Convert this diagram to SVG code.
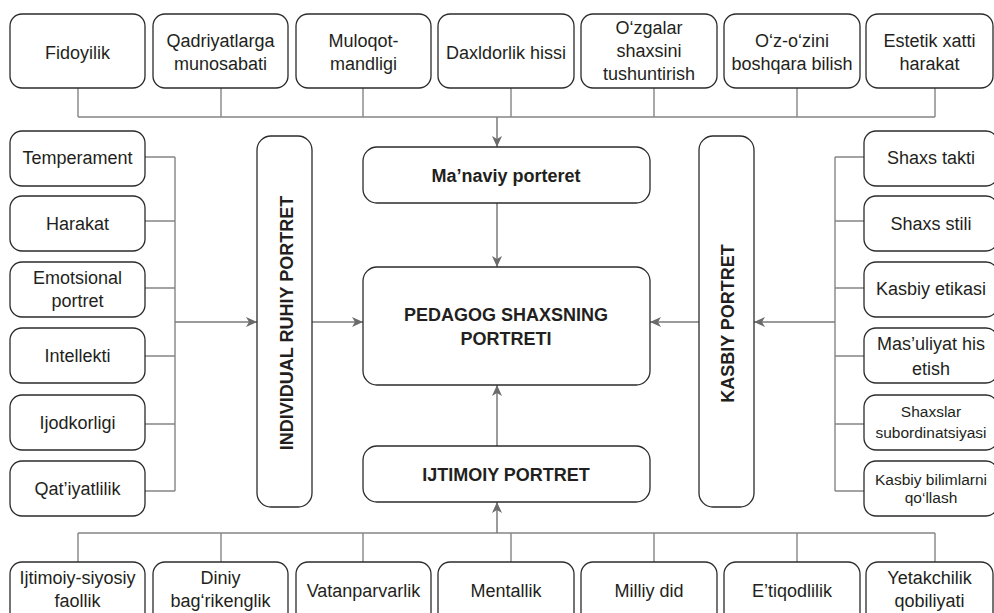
<svg xmlns="http://www.w3.org/2000/svg" width="994" height="613" viewBox="0 0 994 613">
<defs>
<style>
.b{fill:#fff;stroke:#2b2b2b;stroke-width:1.3}
.t{font-family:"Liberation Sans",Arial,sans-serif;font-size:18px;fill:#231f20;text-anchor:middle}
.s{font-size:15.5px}
.bd{font-weight:bold}
.c{fill:none;stroke:#858585;stroke-width:1.4}
.a{fill:none;stroke:#7a7a7a;stroke-width:1.5;marker-end:url(#ah)}
</style>
<marker id="ah" markerUnits="userSpaceOnUse" markerWidth="12" markerHeight="12" refX="11" refY="5" orient="auto">
<path d="M0,0 L11,5 L0,10 L3,5 z" fill="#6b6b6b"/>
</marker>
</defs>
<rect width="994" height="613" fill="#fff"/>
<g id="connectors">
<path class="c" d="M78,88V117M221,88V117M363,88V117M511,88V117M654,88V117M797,88V117M935,88V117M78,117H935"/>
<path class="a" d="M497,117V147"/>
<path class="a" d="M497,203V267"/>
<path class="a" d="M497,446V385"/>
<path class="c" d="M78,562V533M221,562V533M363,562V533M511,562V533M654,562V533M797,562V533M935,562V533M78,533H935"/>
<path class="a" d="M497,533V502"/>
<path class="c" d="M145,157H175M145,221H175M145,288H175M145,356H175M145,424H175M145,491H175M175,157V491"/>
<path class="a" d="M175,322H257"/>
<path class="a" d="M312,322H363"/>
<path class="c" d="M864,157H835M864,221H835M864,288H835M864,356H835M864,424H835M864,491H835M835,157V491"/>
<path class="a" d="M835,322H754"/>
<path class="a" d="M699,322H650"/>
</g>
<g id="top-fidoyilik"><rect class="b" x="10" y="14" width="135" height="74" rx="12"/><text class="t" x="77.5" y="59">Fidoyilik</text></g>
<g id="top-qadriyatlarga"><rect class="b" x="153" y="14" width="135" height="74" rx="12"/><text class="t" x="220.5" y="47">Qadriyatlarga</text><text class="t" x="220.5" y="70">munosabati</text></g>
<g id="top-muloqot"><rect class="b" x="296" y="14" width="135" height="74" rx="12"/><text class="t" x="363.5" y="47">Muloqot-</text><text class="t" x="363.5" y="70">mandligi</text></g>
<g id="top-daxldorlik"><rect class="b" x="438" y="14" width="136" height="74" rx="12"/><text class="t" x="506" y="59">Daxldorlik hissi</text></g>
<g id="top-ozgalar"><rect class="b" x="581" y="14" width="136" height="74" rx="12"/><text class="t" x="649" y="34">O‘zgalar</text><text class="t" x="649" y="57">shaxsini</text><text class="t" x="649" y="80">tushuntirish</text></g>
<g id="top-ozozini"><rect class="b" x="724" y="14" width="136" height="74" rx="12"/><text class="t" x="792" y="47">O‘z-o‘zini</text><text class="t" x="792" y="70">boshqara bilish</text></g>
<g id="top-estetik"><rect class="b" x="866" y="14" width="127" height="74" rx="12"/><text class="t" x="929.5" y="47">Estetik xatti</text><text class="t" x="929.5" y="70">harakat</text></g>

<g id="l-temperament"><rect class="b" x="10" y="131" width="135" height="55" rx="12"/><text class="t" x="77.5" y="164">Temperament</text></g>
<g id="l-harakat"><rect class="b" x="10" y="196" width="135" height="55" rx="12"/><text class="t" x="77.5" y="230">Harakat</text></g>
<g id="l-emotsional"><rect class="b" x="10" y="262" width="135" height="55" rx="12"/><text class="t" x="77.5" y="284">Emotsional</text><text class="t" x="77.5" y="307">portret</text></g>
<g id="l-intellekti"><rect class="b" x="10" y="328" width="135" height="55" rx="12"/><text class="t" x="77.5" y="362">Intellekti</text></g>
<g id="l-ijodkorligi"><rect class="b" x="10" y="395" width="135" height="55" rx="12"/><text class="t" x="77.5" y="429">Ijodkorligi</text></g>
<g id="l-qatiyatlilik"><rect class="b" x="10" y="461" width="135" height="55" rx="12"/><text class="t" x="77.5" y="495">Qat’iyatlilik</text></g>

<g id="individual"><rect class="b" x="257" y="136" width="55" height="371" rx="14"/><text class="t bd" transform="translate(293,323) rotate(-90)">INDIVIDUAL RUHIY PORTRET</text></g>
<g id="kasbiy"><rect class="b" x="699" y="136" width="55" height="371" rx="14"/><text class="t bd" transform="translate(734,323.5) rotate(-90)">KASBIY PORTRET</text></g>

<g id="manaviy"><rect class="b" x="363" y="147" width="287" height="56" rx="14"/><text class="t bd" x="506" y="182">Ma’naviy porteret</text></g>
<g id="pedagog"><rect class="b" x="363" y="267" width="287" height="118" rx="14"/><text class="t bd" x="506" y="321">PEDAGOG SHAXSNING</text><text class="t bd" x="506" y="345">PORTRETI</text></g>
<g id="ijtimoiy"><rect class="b" x="363" y="446" width="287" height="56" rx="14"/><text class="t bd" x="506" y="481">IJTIMOIY PORTRET</text></g>

<g id="r-takti"><rect class="b" x="864" y="131" width="134" height="55" rx="12"/><text class="t" x="931" y="164">Shaxs takti</text></g>
<g id="r-stili"><rect class="b" x="864" y="196" width="134" height="55" rx="12"/><text class="t" x="931" y="230">Shaxs stili</text></g>
<g id="r-etikasi"><rect class="b" x="864" y="262" width="134" height="55" rx="12"/><text class="t" x="931" y="295">Kasbiy etikasi</text></g>
<g id="r-masuliyat"><rect class="b" x="864" y="328" width="134" height="55" rx="12"/><text class="t" x="931" y="350">Mas’uliyat his</text><text class="t" x="931" y="375">etish</text></g>
<g id="r-subordinatsiya"><rect class="b" x="864" y="395" width="134" height="55" rx="12"/><text class="t s" x="931" y="417">Shaxslar</text><text class="t s" x="931" y="438">subordinatsiyasi</text></g>
<g id="r-bilimlar"><rect class="b" x="864" y="461" width="134" height="55" rx="12"/><text class="t s" x="931" y="485">Kasbiy bilimlarni</text><text class="t s" x="931" y="503">qo‘llash</text></g>

<g id="b-ijtimoiy"><rect class="b" x="10" y="562" width="135" height="74" rx="12"/><text class="t" x="77.5" y="584">Ijtimoiy-siyosiy</text><text class="t" x="77.5" y="607">faollik</text></g>
<g id="b-diniy"><rect class="b" x="153" y="562" width="135" height="74" rx="12"/><text class="t" x="220.5" y="584">Diniy</text><text class="t" x="220.5" y="607">bag‘rikenglik</text></g>
<g id="b-vatan"><rect class="b" x="296" y="562" width="135" height="74" rx="12"/><text class="t" x="363.5" y="597">Vatanparvarlik</text></g>
<g id="b-mentallik"><rect class="b" x="438" y="562" width="136" height="74" rx="12"/><text class="t" x="506" y="597">Mentallik</text></g>
<g id="b-milliy"><rect class="b" x="581" y="562" width="136" height="74" rx="12"/><text class="t" x="649" y="597">Milliy did</text></g>
<g id="b-etiqod"><rect class="b" x="724" y="562" width="136" height="74" rx="12"/><text class="t" x="792" y="597">E’tiqodlilik</text></g>
<g id="b-yetakchilik"><rect class="b" x="866" y="562" width="127" height="74" rx="12"/><text class="t" x="929.5" y="584">Yetakchilik</text><text class="t" x="929.5" y="607">qobiliyati</text></g>
</svg>
